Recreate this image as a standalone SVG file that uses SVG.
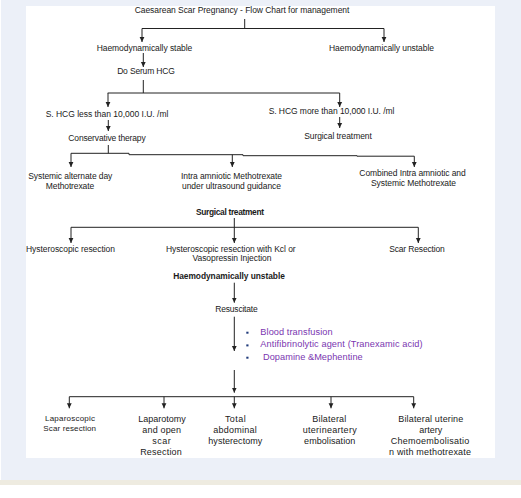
<svg xmlns="http://www.w3.org/2000/svg" width="521" height="498" viewBox="0 0 521 498">
<style>
text{font-family:"Liberation Sans",Arial,sans-serif;font-size:8.5px;fill:#1a1a1a;text-anchor:middle}
.b{font-weight:bold;font-size:8.4px}
.p{fill:#7a35b0;text-anchor:start;font-size:9.2px}
.big{font-size:9px}
.sm{font-size:8px}
.ln{stroke:#222;stroke-width:1;fill:none}
.ar{stroke:#222;stroke-width:1;fill:none;marker-end:url(#ah)}
</style>
<defs>
<marker id="ah" markerUnits="userSpaceOnUse" markerWidth="6" markerHeight="6" refX="5" refY="3" orient="auto">
<path d="M0,0.6 L5,3 L0,5.4 Z" fill="#222"/>
</marker>
</defs>
<rect x="0" y="0" width="521" height="498" fill="#fff"/>
<rect x="1" y="0" width="520" height="480" fill="#ecf0f8"/>
<rect x="0" y="480" width="521" height="5" fill="#eeebe0"/>
<rect x="26" y="6" width="469" height="452" fill="#fff"/>

<g id="connectors">
<path class="ln" d="M244.7,19 V28.5 M142,28.5 H384"/>
<path class="ar" d="M142,28.5 V42"/>
<path class="ar" d="M384,28.5 V42"/>
<path class="ar" d="M143.3,53 V67"/>
<path class="ln" d="M143.3,80 V93 M107.7,93 H339.7"/>
<path class="ar" d="M108,93 V107"/>
<path class="ar" d="M339.7,93 V107"/>
<path class="ar" d="M108.3,120 V131"/>
<path class="ar" d="M339.7,117 V128"/>
<path class="ln" d="M108.3,145 V153.3 M71,153.3 H129 V154.7 H243 V155.7 H357 V156.2 H414.3"/>
<path class="ar" d="M71,153.3 V167"/>
<path class="ar" d="M232.3,154.7 V167"/>
<path class="ar" d="M414.3,156.2 V167"/>
<path class="ln" d="M71,227.3 H418.3"/>
<path class="ar" d="M234.3,218 V243"/>
<path class="ar" d="M71,227.3 V243"/>
<path class="ar" d="M418.3,227.3 V243"/>
<path class="ar" d="M234.3,282.7 V302.7"/>
<path class="ar" d="M234.3,316.7 V351"/>
<path class="ar" d="M234.3,370 V392.7"/>
<path class="ln" d="M69.3,396.7 H413.7"/>
<path class="ar" d="M69.3,396.7 V408.3"/>
<path class="ar" d="M164,396.7 V408.3"/>
<path class="ar" d="M234.3,396.7 V408.3"/>
<path class="ar" d="M331,396.7 V408.3"/>
<path class="ar" d="M413.7,396.7 V408.3"/>
</g>

<g id="title"><text x="242" y="12.7" textLength="214.7">Caesarean Scar Pregnancy - Flow Chart for management</text></g>
<g id="stable"><text x="144.5" y="50.7" textLength="95.7">Haemodynamically stable</text></g>
<g id="unstable"><text x="381.5" y="50.7" textLength="105">Haemodynamically unstable</text></g>
<g id="serum"><text x="146" y="74" textLength="57.7">Do Serum HCG</text></g>
<g id="hcg-less"><text x="107" y="116.7" textLength="122.7">S. HCG less than 10,000 I.U. /ml</text></g>
<g id="hcg-more"><text x="331.5" y="114" textLength="125.7">S. HCG more than 10,000 I.U. /ml</text></g>
<g id="conservative"><text x="107" y="140.7" textLength="77.3">Conservative therapy</text></g>
<g id="surgical-right"><text x="338" y="139" textLength="67.7">Surgical treatment</text></g>
<g id="systemic"><text x="70.3" y="179" textLength="84">Systemic alternate day</text><text x="70" y="188.7" textLength="48.3">Methotrexate</text></g>
<g id="intra"><text x="231.5" y="179" textLength="101">Intra amniotic Methotrexate</text><text x="231.5" y="188.7" textLength="99">under ultrasound guidance</text></g>
<g id="combined"><text x="412.5" y="176.3" textLength="106.3">Combined Intra amniotic and</text><text x="413.5" y="186" textLength="85">Systemic Methotrexate</text></g>
<g id="surgical"><text class="b" x="230" y="215.3" textLength="68">Surgical treatment</text></g>
<g id="hyst"><text x="70.5" y="251.7" textLength="89">Hysteroscopic resection</text></g>
<g id="hyst-kcl"><text x="230.8" y="251.7" textLength="129.7">Hysteroscopic resection with Kcl or</text><text x="232" y="261.3" textLength="79">Vasopressin Injection</text></g>
<g id="scar"><text x="417" y="251.7" textLength="55.7">Scar Resection</text></g>
<g id="haemo-unstable"><text class="b" x="229" y="279.3" textLength="111.7">Haemodynamically unstable</text></g>
<g id="resuscitate"><text x="236.5" y="312.3" textLength="42.3">Resuscitate</text></g>
<g id="measures">
<rect x="246.3" y="331.7" width="2.2" height="2" fill="#1f3a7a"/>
<rect x="246.3" y="344.4" width="2.2" height="2" fill="#1f3a7a"/>
<rect x="246.3" y="356.7" width="2.2" height="2" fill="#1f3a7a"/>
<text class="p" x="260.3" y="334.7" textLength="72.3">Blood transfusion</text>
<text class="p" x="260.3" y="347.3" textLength="162.3">Antifibrinolytic agent (Tranexamic acid)</text>
<text class="p" x="263" y="359.7" textLength="99.7">Dopamine &amp;Mephentine</text>
</g>
<g id="laparoscopic"><text class="sm" x="70" y="420.7" textLength="50">Laparoscopic</text><text class="sm" x="69.7" y="431.3" textLength="52.7">Scar resection</text></g>
<g id="laparotomy"><text class="big" x="162" y="421.7" textLength="47.7">Laparotomy</text><text class="big" x="161.7" y="432.7" textLength="38.7">and open</text><text class="big" x="161.5" y="443.7" textLength="18.3">scar</text><text class="big" x="161" y="454.7" textLength="41.7">Resection</text></g>
<g id="tah"><text class="big" x="235.3" y="421.7" textLength="20.7">Total</text><text class="big" x="235" y="432.7" textLength="43.7">abdominal</text><text class="big" x="235.3" y="443.7" textLength="54">hysterectomy</text></g>
<g id="embolisation"><text class="big" x="329.3" y="421.7" textLength="34">Bilateral</text><text class="big" x="329.7" y="432.7" textLength="54">uterineartery</text><text class="big" x="329.7" y="443.7" textLength="51.3">embolisation</text></g>
<g id="chemo"><text class="big" x="430.8" y="421.7" textLength="65">Bilateral uterine</text><text class="big" x="430.7" y="432.7" textLength="23">artery</text><text class="big" x="430" y="443.7" textLength="78.7">Chemoembolisatio</text><text class="big" x="430" y="454.7" textLength="82">n with methotrexate</text></g>
</svg>
